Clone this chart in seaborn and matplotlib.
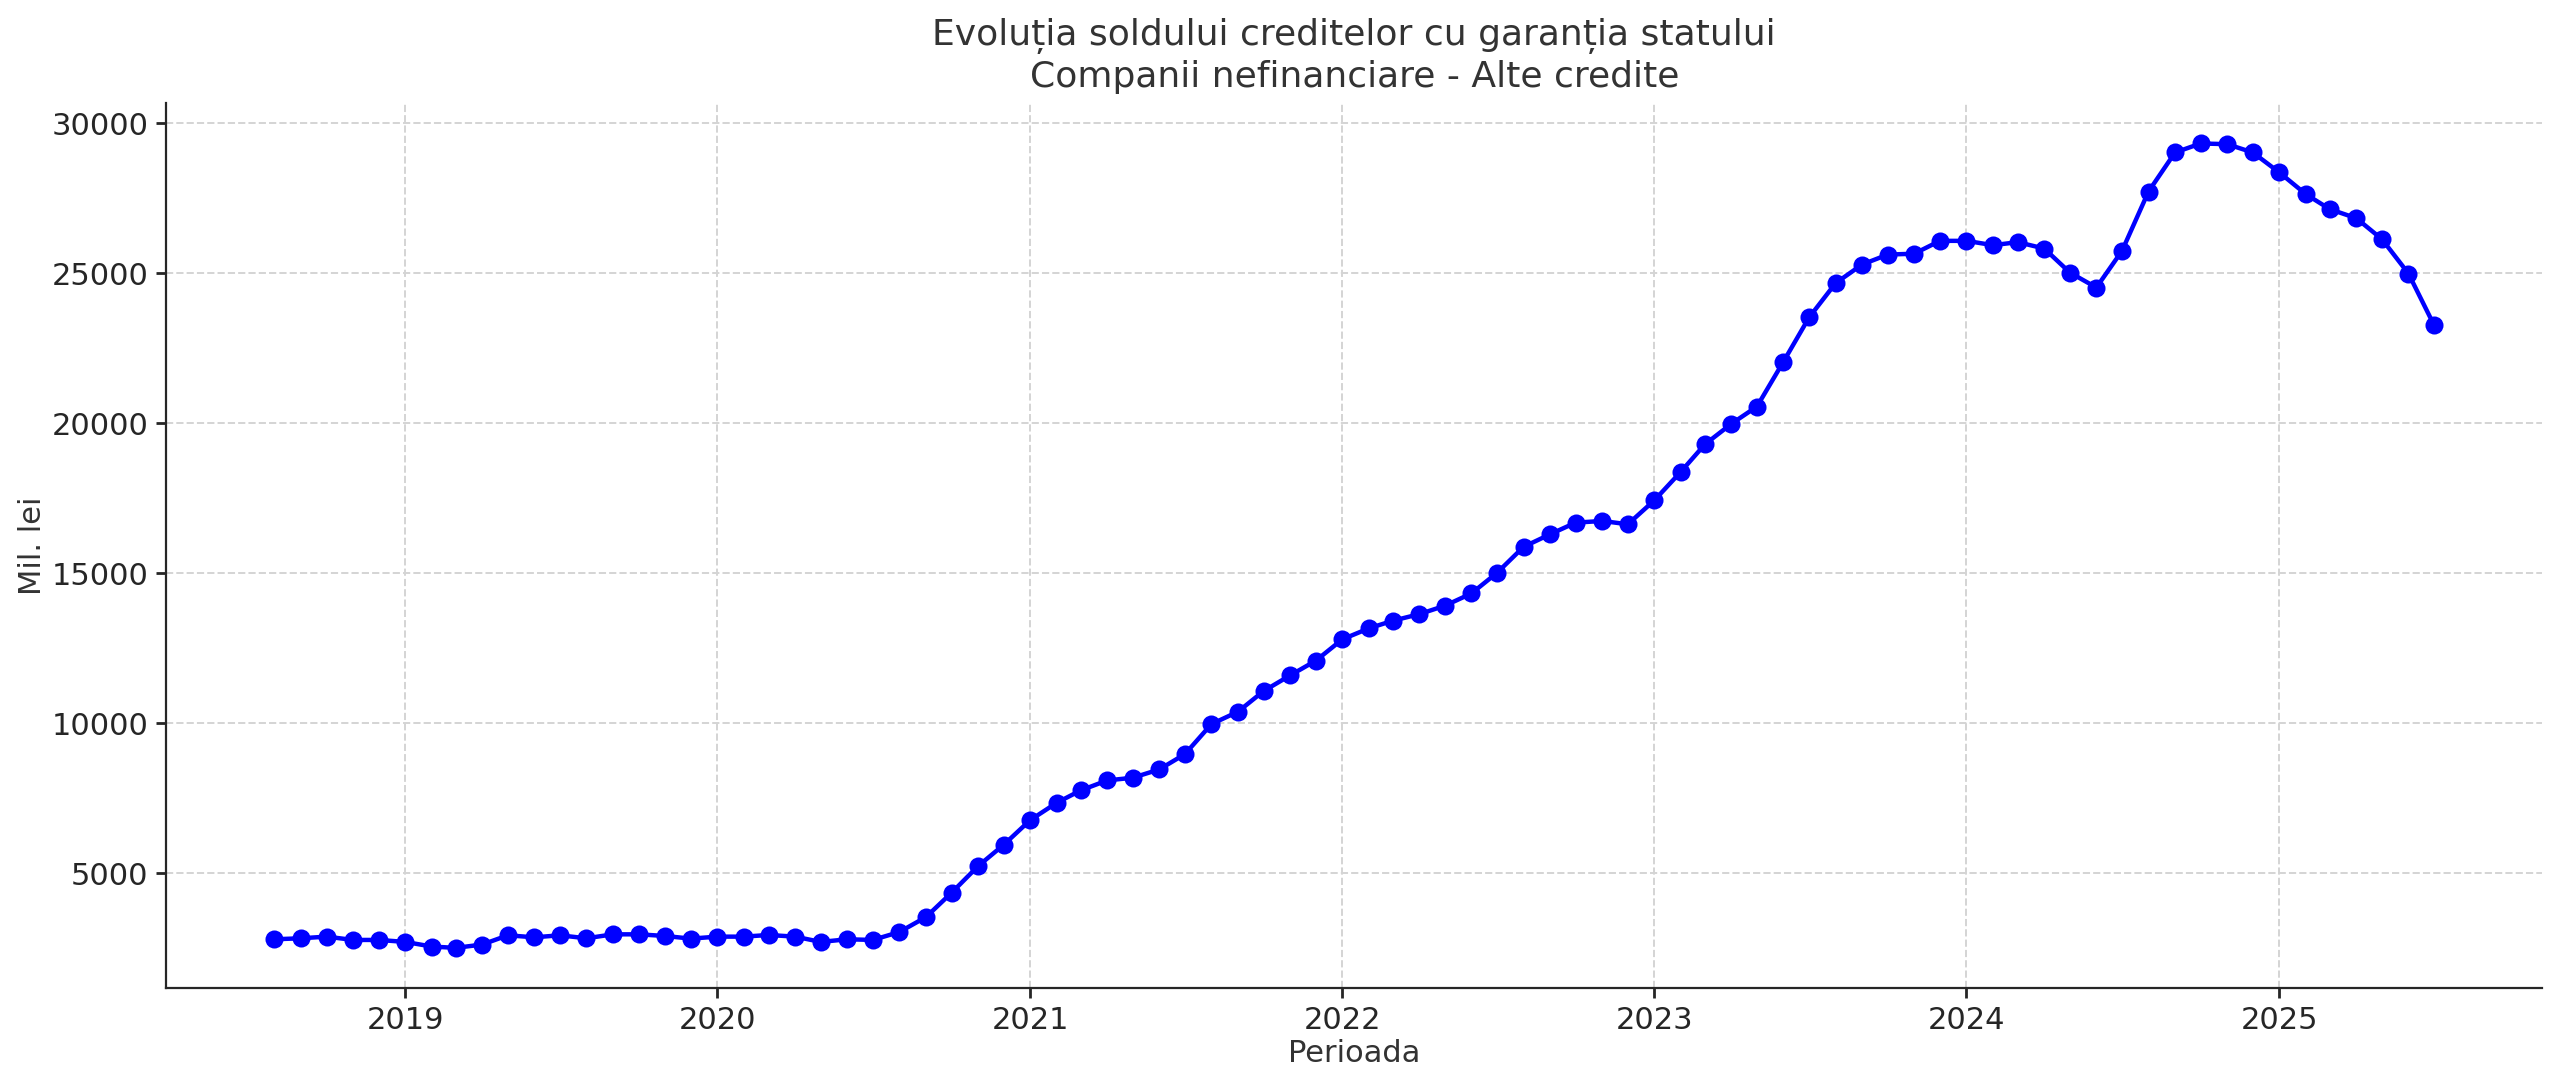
import pandas as pd
import matplotlib
matplotlib.use('Agg')
import matplotlib.pyplot as plt
import matplotlib.dates as mdates
import seaborn as sns

sns.set_style('ticks')
plt.rcParams['font.family'] = ['DejaVu Sans']

# monthly stock of state-guaranteed loans, Aug 2018 - Jul 2025 (mil. lei)
start_month = '2018-08-01'
values_2018 = [2808, 2841, 2896, 2786, 2786]
values_2019 = [2720, 2566, 2522, 2632, 2940, 2874, 2940, 2841, 2973, 2973, 2918, 2830]
values_2020 = [2896, 2896, 2951, 2896, 2720, 2808, 2786, 3050, 3546, 4357, 5245, 5956]
values_2021 = [6778, 7356, 7767, 8101, 8190, 8467, 8978, 9978, 10389, 11078, 11600, 12089]
values_2022 = [12800, 13167, 13420, 13640, 13920, 14330, 15017, 15881, 16302, 16690, 16745, 16635]
values_2023 = [17432, 18385, 19294, 19981, 20557, 22053, 23526, 24668, 25290, 25620, 25650, 26078]
values_2024 = [26078, 25934, 26034, 25822, 25022, 24522, 25744, 27722, 29022, 29322, 29300, 29022]
values_2025 = [28356, 27633, 27133, 26833, 26133, 24989, 23267]

title = 'Evoluția soldului creditelor cu garanția statului\nCompanii nefinanciare - Alte credite'
x_label = 'Perioada'
y_label = 'Mil. lei'

sold = (values_2018 + values_2019 + values_2020 + values_2021 +
        values_2022 + values_2023 + values_2024 + values_2025)
df = pd.DataFrame({
    'data': pd.date_range(start_month, periods=len(sold), freq='MS'),
    'sold': sold,
})

fig, ax = plt.subplots(figsize=(12.8, 5.435), dpi=200)
sns.lineplot(data=df, x='data', y='sold', ax=ax, color='#0000ff',
             marker='o', markersize=6.5, markeredgewidth=0, linewidth=1.6)

ax.xaxis.set_major_locator(mdates.YearLocator())
ax.xaxis.set_major_formatter(mdates.DateFormatter('%Y'))
ax.grid(True, linestyle='--', color='#d4d4d4', linewidth=0.7)
ax.set_axisbelow(True)

ax.set_title(title, fontsize=13, color='#333333')
ax.set_xlabel(x_label, fontsize=11, color='#333333', labelpad=1.5)
ax.set_ylabel(y_label, fontsize=11, color='#333333', labelpad=1.5)
ax.tick_params(labelsize=11, length=3.5, width=1.0, pad=3)
sns.despine(ax=ax)

fig.subplots_adjust(left=0.065, right=0.993, top=0.905, bottom=0.091)
plt.savefig('out.png', dpi=200)
